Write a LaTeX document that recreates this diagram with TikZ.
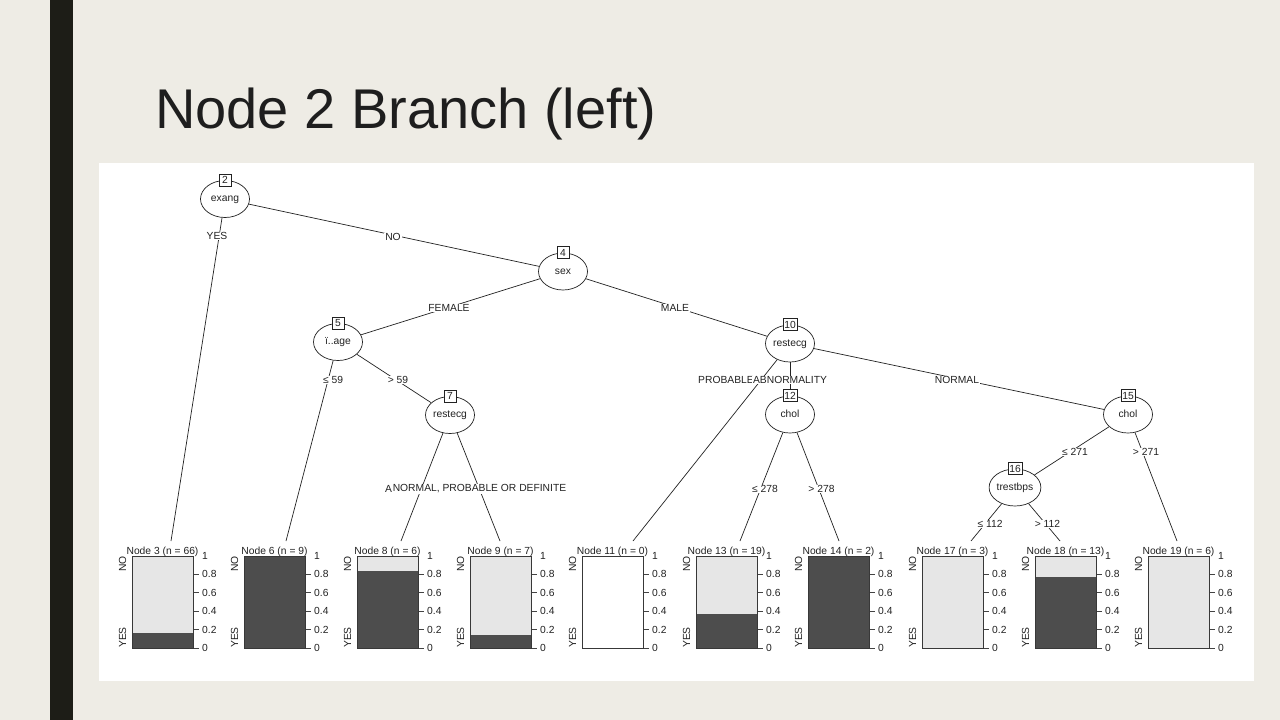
\documentclass[tikz,border=0pt]{standalone}
\usepackage{fontspec}
\setmainfont{Liberation Sans}
\usetikzlibrary{shapes.geometric}
\definecolor{bg}{HTML}{EEECE5}
\definecolor{sidebar}{HTML}{1D1D17}
\definecolor{darkbar}{HTML}{4D4D4D}
\definecolor{lightbar}{HTML}{E6E6E6}
\definecolor{inkc}{HTML}{222222}
\definecolor{titlec}{HTML}{1E1E1E}

\newcommand\termpanel[5]{%
  \path[fill=#5] (#1,556) rectangle ++(61,92);
  \path[fill=darkbar] (#1,648) rectangle ++(61,-92*#2);
  \draw[barframe] (#1,556) rectangle ++(61,92);
  \node[anchor=base, inner sep=0pt] (t#3) at (#1+30.5,554.5) {Node #3 (n = #4)};
  \node[rotate=90, anchor=east, inner sep=0pt] at (#1-9.5,556) {NO};
  \node[rotate=90, anchor=west, inner sep=0pt] at (#1-9.5,648) {YES};
  \foreach \k/\v in {1/0.8,2/0.6,3/0.4,4/0.2,5/0}{
    \draw[tickline] (#1+61.5,556+18.4*\k) -- ++(5.5,0);
    \node[anchor=west, inner sep=0pt] at (#1+70,556+18.4*\k) {\v};
  }
  \node[anchor=west, inner sep=0pt] at (#1+70,556) {1};
}

\begin{document}
\begin{tikzpicture}[x=1pt,y=-1pt,
  every node/.style={font=\fontsize{10.3}{12}\selectfont, text=inkc},
  split/.style={draw=inkc, ellipse, minimum width=49pt, minimum height=37pt, inner sep=0pt, line width=0.7pt, text height=5.5pt, text depth=0pt},
  idbox/.style={draw=inkc, fill=white, minimum width=12pt, minimum height=12pt, inner sep=1.2pt, line width=0.7pt},
  conn/.style={draw=inkc, line width=0.7pt},
  elabel/.style={fill=white, inner sep=0.8pt},
  barframe/.style={draw=inkc!90, line width=0.8pt},
  tickline/.style={draw=inkc!85, line width=0.7pt}
]
\useasboundingbox (0,0) rectangle (1280,720);
\fill[bg] (0,0) rectangle (1280,720);
\fill[sidebar] (50,0) rectangle (73,720);
\fill[white] (99,163) rectangle (1254,681);

\node[anchor=base west, inner sep=0pt, font=\fontsize{56}{60}\selectfont, text=titlec] (title) at (155,128) {Node 2 Branch (left)};

% inner nodes
\node[split] (n2) at (225,199) {exang};
\node[split] (n4) at (563,271.5) {sex};
\node[split] (n5) at (338,342) {ï..age};
\node[split] (n7) at (450,415) {restecg};
\node[split] (n10) at (790,343.5) {restecg};
\node[split] (n12) at (790,414.5) {chol};
\node[split] (n15) at (1128,414.5) {chol};
\node[split] (n16) at (1015,487.5) {trestbps};

% connector ends at terminal panels
\coordinate (e3) at (171,541);
\coordinate (e6) at (286,541);
\coordinate (e8) at (401,541);
\coordinate (e9) at (500,541);
\coordinate (e11) at (633,541);
\coordinate (e13) at (740,541);
\coordinate (e14) at (839,541);
\coordinate (e17) at (971,541);
\coordinate (e18) at (1060,541);
\coordinate (e19) at (1177,541);

% connectors
\draw[conn] (n2) -- (n4);
\draw[conn] (n2) -- (e3);
\draw[conn] (n4) -- (n5);
\draw[conn] (n4) -- (n10);
\draw[conn] (n5) -- (e6);
\draw[conn] (n5) -- (n7);
\draw[conn] (n7) -- (e8);
\draw[conn] (n7) -- (e9);
\draw[conn] (n10) -- (e11);
\draw[conn] (n10) -- (n12);
\draw[conn] (n10) -- (n15);
\draw[conn] (n12) -- (e13);
\draw[conn] (n12) -- (e14);
\draw[conn] (n15) -- (n16);
\draw[conn] (n15) -- (e19);
\draw[conn] (n16) -- (e17);
\draw[conn] (n16) -- (e18);

% edge labels
\node[elabel] (l3) at (217,236) {YES};
\node[elabel] (l4) at (393,237) {NO};
\node[elabel] (l5) at (449,308) {FEMALE};
\node[elabel] (l10) at (675,308) {MALE};
\node[elabel] (l6) at (333,380) {≤ 59};
\node[elabel] (l7) at (398,380) {> 59};
\node[elabel] (l8) at (422,489) {ABNORMALITY};
\node[elabel] (l9) at (479.5,489) {NORMAL, PROBABLE OR DEFINITE};
\node[elabel] (l11) at (726,380) {PROBABLE};
\node[elabel] (l12) at (790,380) {ABNORMALITY};
\node[elabel] (l15) at (957,380) {NORMAL};
\node[elabel] (l13) at (765,489) {≤ 278};
\node[elabel] (l14) at (821.5,489) {> 278};
\node[elabel] (l16) at (1075,452) {≤ 271};
\node[elabel] (l19) at (1146,452) {> 271};
\node[elabel] (l17) at (990,524) {≤ 112};
\node[elabel] (l18) at (1047.5,524) {> 112};

% id boxes
\node[idbox] (b2) at (n2.north) {2};
\node[idbox] (b4) at (n4.north) {4};
\node[idbox] (b5) at (n5.north) {5};
\node[idbox] (b7) at (n7.north) {7};
\node[idbox] (b10) at (n10.north) {10};
\node[idbox] (b12) at (n12.north) {12};
\node[idbox] (b15) at (n15.north) {15};
\node[idbox] (b16) at (n16.north) {16};

% terminal panels
\termpanel{132}{11/66}{3}{66}{lightbar}
\termpanel{244}{1}{6}{9}{lightbar}
\termpanel{357}{5/6}{8}{6}{lightbar}
\termpanel{470}{1/7}{9}{7}{lightbar}
\termpanel{582}{0}{11}{0}{white}
\termpanel{696}{7/19}{13}{19}{lightbar}
\termpanel{808}{1}{14}{2}{lightbar}
\termpanel{922}{0}{17}{3}{lightbar}
\termpanel{1035}{10/13}{18}{13}{lightbar}
\termpanel{1148}{0}{19}{6}{lightbar}
\end{tikzpicture}
\end{document}
